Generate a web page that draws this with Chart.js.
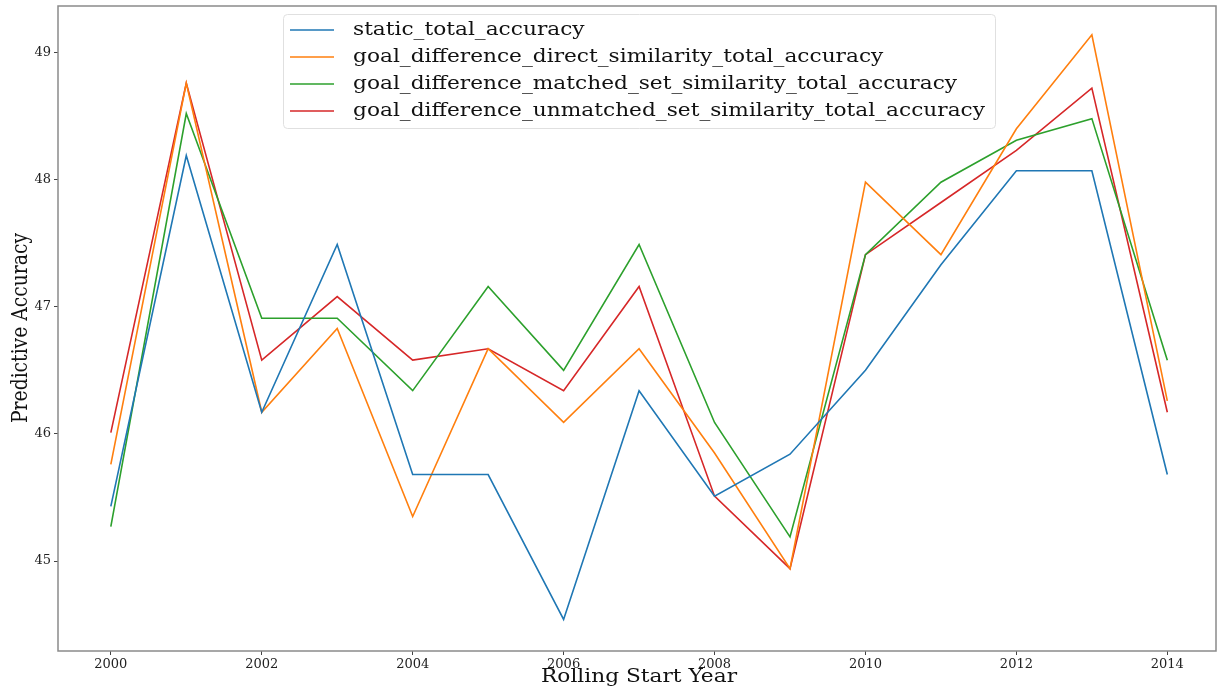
<!DOCTYPE html>
<html>
<head>
<meta charset="utf-8">
<script src="https://cdn.jsdelivr.net/npm/chart.js@4/dist/chart.umd.min.js"></script>
<style>
html,body{margin:0;padding:0;background:#fff;}
#wrap{width:1217px;height:692px;position:relative;}
</style>
</head>
<body>
<div id="wrap"><canvas id="c" width="1217" height="692"></canvas></div>
<script>
const years = [2000,2001,2002,2003,2004,2005,2006,2007,2008,2009,2010,2011,2012,2013,2014];
const staticAcc = [45.43,48.19,46.17,47.49,45.68,45.68,44.54,46.34,45.51,45.84,46.50,47.33,48.07,48.07,45.68];
const directAcc = [45.76,48.76,46.17,46.83,45.35,46.67,46.09,46.67,45.85,44.94,47.98,47.41,48.40,49.14,46.26];
const matchedAcc = [45.27,48.52,46.91,46.91,46.34,47.16,46.50,47.49,46.09,45.19,47.41,47.98,48.31,48.48,46.58];
const unmatchedAcc = [46.01,48.76,46.58,47.08,46.58,46.67,46.34,47.16,45.51,44.94,47.41,47.82,48.23,48.72,46.17];
const seriesLabels = [
  'static_total_accuracy',
  'goal_difference_direct_similarity_total_accuracy',
  'goal_difference_matched_set_similarity_total_accuracy',
  'goal_difference_unmatched_set_similarity_total_accuracy'
];
const xTickValues = [2000,2002,2004,2006,2008,2010,2012,2014];
const yTickValues = [45,46,47,48,49];
const xTitle = 'Rolling Start Year';
const yTitle = 'Predictive Accuracy';

const colors = ['#1f77b4','#ff7f0e','#2ca02c','#d62728'];
const seriesValues = [staticAcc, directAcc, matchedAcc, unmatchedAcc];
const SERIF = '"DejaVu Serif", serif';

const datasets = seriesValues.map((vals, i) => ({
  label: seriesLabels[i],
  data: years.map((y, j) => ({x: y, y: vals[j]})),
  borderColor: colors[i],
  backgroundColor: colors[i],
  borderWidth: 1.6,
  pointRadius: 0,
  tension: 0,
  fill: false
}));

function stretchedText(ctx, text, cx, cy, size, targetW, align) {
  ctx.font = size + 'px ' + SERIF;
  const w = ctx.measureText(text).width;
  const sx = targetW / w;
  ctx.save();
  ctx.translate(cx, cy);
  ctx.scale(sx, 1);
  ctx.textAlign = align;
  ctx.fillText(text, 0, 0);
  ctx.restore();
}

const framePlugin = {
  id: 'frame',
  afterDatasetsDraw(chart) {
    const {ctx, chartArea: a} = chart;
    ctx.save();
    ctx.strokeStyle = '#8a8a8a';
    ctx.lineWidth = 1.5;
    ctx.strokeRect(a.left, a.top, a.right - a.left, a.bottom - a.top);
    ctx.restore();
  }
};

const titlesPlugin = {
  id: 'titles',
  afterDraw(chart) {
    const {ctx} = chart;
    ctx.save();
    ctx.fillStyle = '#111';
    ctx.textBaseline = 'middle';
    stretchedText(ctx, xTitle, 639, 677, 19, 196, 'center');
    ctx.font = '19px ' + SERIF;
    const w = ctx.measureText(yTitle).width;
    ctx.translate(21, 328);
    ctx.scale(1.14, 1);
    ctx.rotate(-Math.PI / 2);
    ctx.scale(190 / w, 1);
    ctx.textAlign = 'center';
    ctx.fillText(yTitle, 0, 0);
    ctx.restore();
  }
};

const legendPlugin = {
  id: 'customLegend',
  afterDraw(chart) {
    const {ctx} = chart;
    const bx = 283, by = 14, bw = 712, bh = 114;
    ctx.save();
    ctx.fillStyle = 'rgba(255,255,255,0.85)';
    ctx.strokeStyle = '#e0e0e0';
    ctx.lineWidth = 1;
    ctx.beginPath();
    ctx.roundRect(bx + 0.5, by + 0.5, bw, bh, 4);
    ctx.fill();
    ctx.stroke();
    ctx.font = '19px ' + SERIF;
    const sx = 632 / ctx.measureText(seriesLabels[3]).width;
    ctx.textBaseline = 'middle';
    chart.data.datasets.forEach((ds, i) => {
      const y = 30 + i * 27;
      ctx.strokeStyle = ds.borderColor;
      ctx.lineWidth = 1.6;
      ctx.beginPath();
      ctx.moveTo(290, y);
      ctx.lineTo(334, y);
      ctx.stroke();
      ctx.fillStyle = '#111';
      ctx.save();
      ctx.translate(353, y);
      ctx.scale(sx, 1);
      ctx.textAlign = 'left';
      ctx.fillText(ds.label, 0, 0);
      ctx.restore();
    });
    ctx.restore();
  }
};

new Chart(document.getElementById('c'), {
  type: 'line',
  data: {datasets},
  options: {
    responsive: false,
    animation: false,
    devicePixelRatio: 1,
    layout: {padding: {left: 0, top: 6, right: 1, bottom: 0}},
    plugins: {legend: {display: false}, tooltip: {enabled: false}},
    scales: {
      x: {
        type: 'linear',
        min: 1999.3,
        max: 2014.645,
        afterFit(s) { s.height = 41; s.paddingLeft = 0; s.paddingRight = 0; },
        afterBuildTicks(s) { s.ticks = xTickValues.map(v => ({value: v})); },
        grid: {drawOnChartArea: false, tickLength: 4, color: '#444', tickWidth: 1},
        border: {display: false},
        ticks: {
          autoSkip: false, maxRotation: 0, padding: 2,
          color: '#222', font: {family: SERIF, size: 13},
          callback: v => String(v)
        }
      },
      y: {
        type: 'linear',
        min: 44.292,
        max: 49.366,
        afterFit(s) { s.width = 58; s.paddingTop = 0; s.paddingBottom = 0; },
        afterBuildTicks(s) { s.ticks = yTickValues.map(v => ({value: v})); },
        grid: {drawOnChartArea: false, tickLength: 4, color: '#444', tickWidth: 1},
        border: {display: false},
        ticks: {
          padding: 3,
          color: '#222', font: {family: SERIF, size: 13},
          callback: v => String(v)
        }
      }
    }
  },
  plugins: [framePlugin, titlesPlugin, legendPlugin]
});
</script>
</body>
</html>
